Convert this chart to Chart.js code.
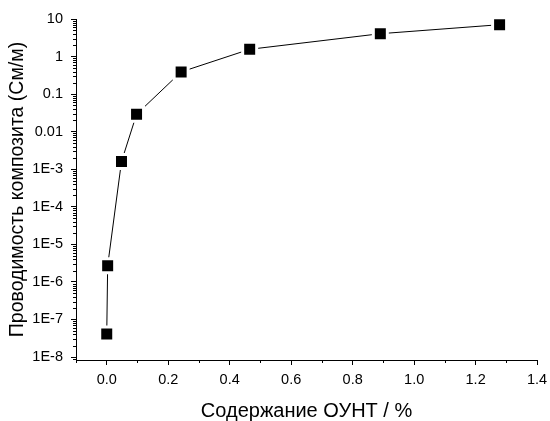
<!DOCTYPE html>
<html>
<head>
<meta charset="utf-8">
<script src="https://cdn.jsdelivr.net/npm/chart.js@4"></script>
<style>
    html, body { margin: 0; padding: 0; background: #fff; }
    #wrap { width: 550px; height: 421px; }
</style>
</head>
<body>
<div id="wrap"><canvas id="condChart"></canvas></div>
<script>
// Data
const cntContent = [0, 0.003, 0.048, 0.097, 0.242, 0.465, 0.89, 1.278];
const conductivity = [4.1e-8, 2.7e-6, 1.6e-3, 0.029, 0.39, 1.56, 4.06, 7.05];

// Tick labels
const xTicks = [0, 0.2, 0.4, 0.6, 0.8, 1.0, 1.2, 1.4];
const xMinorTicks = [-0.1, 0.1, 0.3, 0.5, 0.7, 0.9, 1.1, 1.3];
const yTicks = [1e-8, 1e-7, 1e-6, 1e-5, 1e-4, 1e-3, 0.01, 0.1, 1, 10];
const yTickLabels = ['1E-8', '1E-7', '1E-6', '1E-5', '1E-4', '1E-3', '0.01', '0.1', '1', '10'];

const FONT = "'Liberation Sans', Arial, sans-serif";

/**
 * Draw the short minor ticks (Origin style) on both axes
 */
const minorTicks = {
    id: 'minorTicks',
    afterDraw(chart) {
        const ctx = chart.ctx;
        const xs = chart.scales.x;
        const ys = chart.scales.y;
        ctx.save();
        ctx.strokeStyle = '#000';
        ctx.lineWidth = 1;
        ctx.beginPath();
        xMinorTicks.forEach(v => {
            const px = Math.round(xs.getPixelForValue(v)) + 0.5;
            ctx.moveTo(px, xs.top);
            ctx.lineTo(px, xs.top + 3);
        });
        for (let d = -9; d <= 1; d++) {
            for (let k = 2; k <= 9; k++) {
                const v = k * Math.pow(10, d);
                if (v < ys.min || v > ys.max) continue;
                const py = Math.round(ys.getPixelForValue(v)) + 0.5;
                ctx.moveTo(ys.right - 3, py);
                ctx.lineTo(ys.right, py);
            }
        }
        ctx.stroke();
        ctx.restore();
    }
};

new Chart(document.getElementById('condChart'), {
    type: 'line',
    data: {
        datasets: [{
            data: cntContent.map((x, i) => ({ x: x, y: conductivity[i] })),
            borderColor: '#000',
            borderWidth: 1,
            pointStyle: 'rect',
            pointRadius: 9.9,
            pointBackgroundColor: '#000',
            pointBorderColor: '#fff',
            pointBorderWidth: 3,
            tension: 0
        }]
    },
    options: {
        responsive: true,
        maintainAspectRatio: false,
        animation: false,
        layout: {
            padding: { top: 19, right: 11, left: 0, bottom: 0 }
        },
        plugins: {
            legend: { display: false },
            tooltip: { enabled: false }
        },
        scales: {
            x: {
                type: 'linear',
                min: -0.1,
                max: 1.4,
                afterBuildTicks: scale => {
                    scale.ticks = xTicks.map(v => ({ value: v }));
                },
                afterFit: scale => {
                    scale.height = 61;
                    scale.paddingLeft = 0;
                    scale.paddingRight = 0;
                },
                border: { display: true, color: '#000', width: 1 },
                grid: {
                    drawOnChartArea: false,
                    drawTicks: true,
                    tickLength: 5,
                    tickColor: '#000'
                },
                ticks: {
                    color: '#000',
                    padding: 6,
                    maxRotation: 0,
                    font: { family: FONT, size: 14.5 },
                    callback: value => value.toFixed(1)
                },
                title: {
                    display: true,
                    text: 'Содержание ОУНТ / %',
                    color: '#000',
                    font: { family: FONT, size: 20 },
                    padding: { top: 0, bottom: -2 }
                }
            },
            y: {
                type: 'logarithmic',
                min: 8.32e-9,
                max: 10,
                afterBuildTicks: scale => {
                    scale.ticks = yTicks.map(v => ({ value: v }));
                },
                afterFit: scale => {
                    scale.width = 76;
                    scale.paddingTop = 0;
                    scale.paddingBottom = 0;
                },
                border: { display: true, color: '#000', width: 1 },
                grid: {
                    drawOnChartArea: false,
                    drawTicks: true,
                    tickLength: 5,
                    tickColor: '#000'
                },
                ticks: {
                    color: '#000',
                    padding: 8,
                    font: { family: FONT, size: 14.5 },
                    callback: value => {
                        const i = yTicks.findIndex(t => Math.abs(Math.log10(t) - Math.log10(value)) < 1e-6);
                        return i >= 0 ? yTickLabels[i] : '';
                    }
                },
                title: {
                    display: true,
                    text: 'Проводимость композита (См/м)',
                    color: '#000',
                    font: { family: FONT, size: 19.5 },
                    padding: { top: 6, bottom: 0 }
                }
            }
        }
    },
    plugins: [minorTicks]
});
</script>
</body>
</html>
